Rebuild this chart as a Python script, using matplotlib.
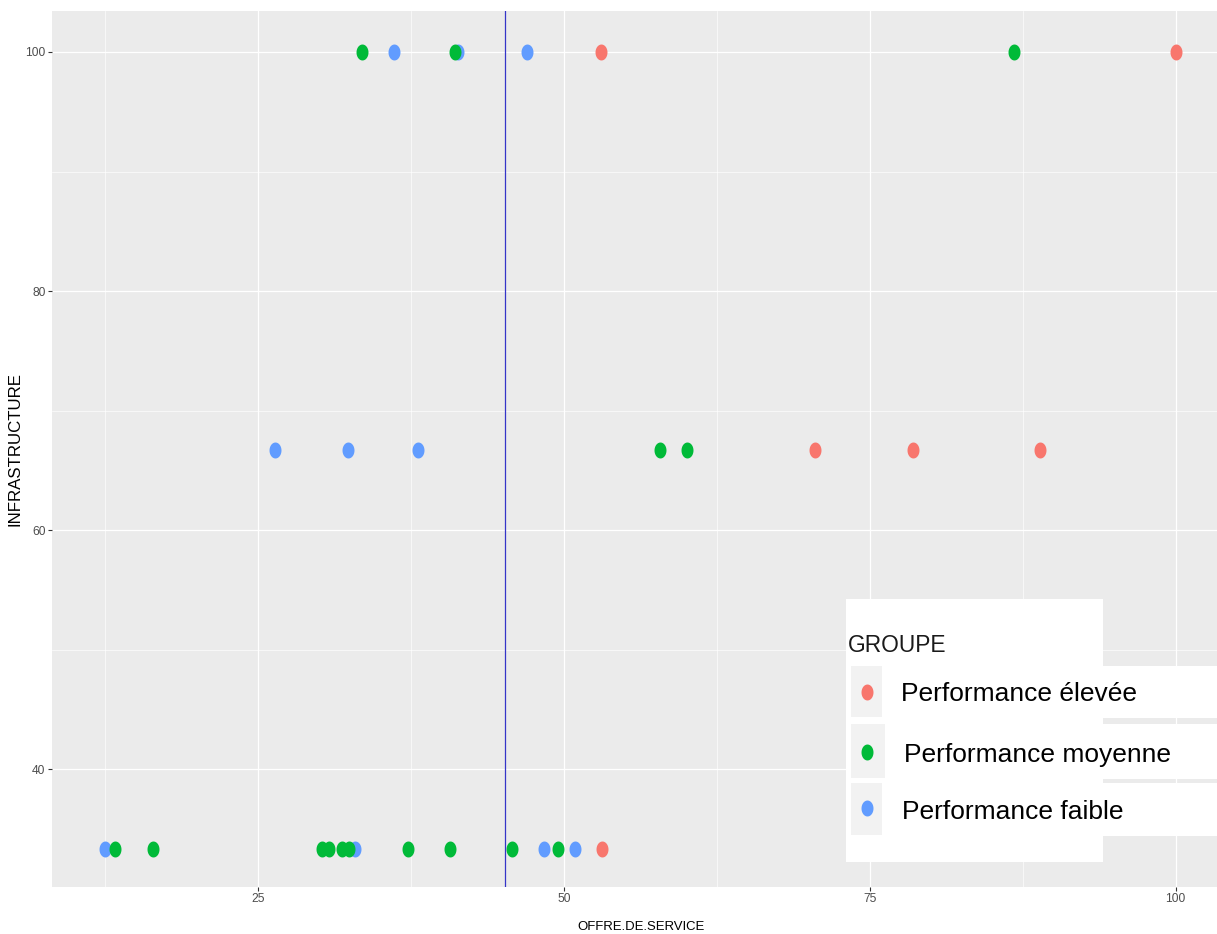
import numpy as np
import matplotlib
matplotlib.use('Agg')
import matplotlib.pyplot as plt
from matplotlib import font_manager
from matplotlib.patches import Rectangle
from matplotlib.lines import Line2D

# data
groups = ['Performance élevée', 'Performance moyenne', 'Performance faible']
colors = ['#F8766D', '#00BA38', '#619CFF']

elevee_x = [53.0, 100.0, 70.5, 78.5, 88.9, 53.1]
elevee_y = [100, 100, 66.67, 66.67, 66.67, 33.33]

moyenne_x = [33.5, 41.1, 86.8, 57.9, 60.1,
             13.3, 16.4, 30.2, 30.8, 31.9, 32.4, 37.3, 40.7, 45.8, 49.5]
moyenne_y = [100, 100, 100, 66.67, 66.67,
             33.33, 33.33, 33.33, 33.33, 33.33, 33.33, 33.33, 33.33, 33.33, 33.33]

faible_x = [36.1, 41.35, 47.0, 26.4, 32.35, 38.1, 12.5, 32.9, 48.35, 50.9]
faible_y = [100, 100, 100, 66.67, 66.67, 66.67, 33.33, 33.33, 33.33, 33.33]

vline_x = 45.2
xticks = [25, 50, 75, 100]
yticks = [40, 60, 80, 100]

names = {f.name for f in font_manager.fontManager.ttflist}
narrow = 'Liberation Sans Narrow' if 'Liberation Sans Narrow' in names else 'Liberation Sans'
shrink = 1.0 if narrow == 'Liberation Sans Narrow' else 0.82
plt.rcParams['font.family'] = ['Liberation Sans', 'DejaVu Sans']

W, H = 1217, 934
fig = plt.figure(figsize=(W / 100, H / 100), dpi=100)
ax = fig.add_axes([52 / W, (H - 887) / H, (W - 52) / W, (887 - 11) / H])
ax.set_facecolor('#EBEBEB')
for s in ax.spines.values():
    s.set_visible(False)

# ellipse marker, taller than wide
t = np.linspace(0, 2 * np.pi, 40)
ell = np.column_stack([0.75 * np.cos(t), np.sin(t)])

ax.plot(faible_x, faible_y, ls='none', marker=ell, ms=11.5, mew=0, color=colors[2], zorder=3)
ax.plot(moyenne_x, moyenne_y, ls='none', marker=ell, ms=11.5, mew=0, color=colors[1], zorder=3)
ax.plot(elevee_x, elevee_y, ls='none', marker=ell, ms=11.5, mew=0, color=colors[0], zorder=3)
ax.axvline(vline_x, color='#3535c8', lw=0.9, zorder=4)

ax.set_xlim(8.16, 103.39)
ax.set_ylim(30.13, 103.43)
ax.set_xticks(xticks)
ax.set_yticks(yticks)
ax.set_xticks([12.5, 37.5, 62.5, 87.5], minor=True)
ax.set_yticks([50, 70, 90], minor=True)
ax.grid(which='major', color='white', lw=0.9)
ax.grid(which='minor', color='white', lw=0.45)
ax.set_axisbelow(True)
ax.tick_params(which='major', length=2.6, width=0.8, color='#333333',
               labelcolor='#4D4D4D', pad=2)
ax.tick_params(which='minor', length=0)
for lab in ax.get_xticklabels() + ax.get_yticklabels():
    lab.set_family(narrow)
    lab.set_fontsize(10.5 * shrink)

ax.set_xlabel('OFFRE.DE.SERVICE', fontsize=11.5 * shrink, family=narrow)
ax.set_ylabel('INFRASTRUCTURE', fontsize=12.2)
ax.xaxis.set_label_coords(0.506, -0.039)
ax.yaxis.set_label_coords(-0.025, 0.5)

# legend built by hand (pixel coordinates, top-left origin)
def fx(x):
    return x / W

def fy(y):
    return 1 - y / H

def box(x0, y0, x1, y1, color):
    fig.add_artist(Rectangle((fx(x0), fy(y1)), (x1 - x0) / W, (y1 - y0) / H,
                             transform=fig.transFigure, facecolor=color,
                             edgecolor='none', zorder=5))

box(846, 599, 1103, 862, 'white')
rows = [(666, 718, 882, 692, 901, 701), (724, 779, 885, 752, 904, 762),
        (783, 836, 882, 808, 902, 819)]
for (r0, r1, sx, my, tx, ty), g, c in zip(rows, groups, colors):
    box(sx, r0, W, r1, 'white')
    box(851, r0, sx, r1 - 1, '#F2F2F2')
    fig.add_artist(Line2D([fx(867)], [fy(my)], marker=ell, ms=11.5, mew=0,
                          color=c, transform=fig.transFigure, zorder=6))
    fig.text(fx(tx), fy(ty), g, fontsize=19, color='black', va='baseline',
             ha='left', zorder=7)

fig.text(fx(848), fy(652), 'GROUPE', fontsize=20 * shrink, family=narrow,
         color='#1a1a1a', va='baseline', ha='left', zorder=7)

fig.savefig('out.png', dpi=100, facecolor='white')
